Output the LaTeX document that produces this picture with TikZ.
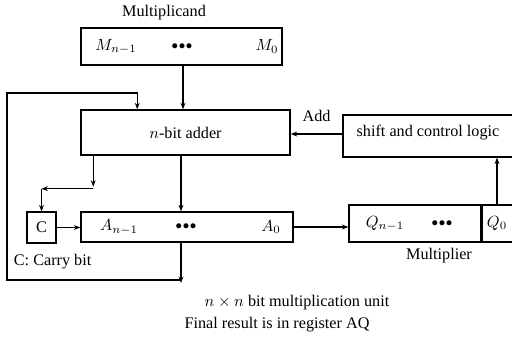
\documentclass[tikz,border=0pt]{standalone}
\usepackage{fontspec}
\setmainfont{Liberation Serif}
\usetikzlibrary{arrows.meta,calc}
\tikzset{
  reg/.style={draw,line width=0.8pt,inner sep=0pt},
  arr/.style={line width=0.8pt,-{Stealth[length=4pt,width=3pt]}},
  txt/.style={inner sep=1pt}
}
\newcommand{\regdots}{\scalebox{0.8}{$\bullet\!\bullet\!\bullet$}}

\begin{document}
\begin{tikzpicture}[x=0.0217cm,y=-0.0217cm]
  \useasboundingbox (0,0) rectangle (512,337);
  % registers and blocks
  \node[txt] (mcand) at (164,13) {Multiplicand};
  \node[reg,minimum width=4.36cm,minimum height=0.80cm] (mreg) at (181.5,46.5) {};
  \node[reg,minimum width=4.54cm,minimum height=0.98cm] (adder) at (185.5,132.5) {$n$-bit adder};
  \node[reg,minimum width=3.90cm,minimum height=0.91cm] (shift) at (433,136) {};
  \node[txt] (shifttxt) at (428,133) {shift and control logic};
  \node[reg,minimum width=0.63cm,minimum height=0.67cm] (carry) at (41.5,227.5) {C};
  \node[reg,minimum width=4.60cm,minimum height=0.65cm] (areg) at (187,227) {};
  \node[reg,minimum width=2.86cm,minimum height=0.80cm] (qreg) at (415,223.5) {};
  \node[reg,minimum width=0.90cm,minimum height=0.80cm,anchor=west] (q0) at (qreg.east) {};
  % register contents
  \node[txt] (mhi) at (116,46.5) {$M_{n-1}$};
  \node[txt] (mdots) at (182,46.5) {\regdots};
  \node[txt] (mlo) at (267,46.5) {$M_0$};
  \node[txt] (ahi) at (119,227) {$A_{n-1}$};
  \node[txt] (adots) at (186,227) {\regdots};
  \node[txt] (alo) at (271,227) {$A_0$};
  \node[txt] (qhi) at (385,223.5) {$Q_{n-1}$};
  \node[txt] (qdots) at (442,223.5) {\regdots};
  \node[txt] (qlo) at (497,223.5) {$Q_0$};
  % captions
  \node[txt,anchor=west] (carrytxt) at (12,262) {C: Carry bit};
  \node[txt] (mplier) at (439,256) {Multiplier};
  \node[txt] (unit) at (297,303) {$n\times n$ bit multiplication unit};
  \node[txt] (result) at (277,325) {Final result is in register AQ};

  % ports
  \coordinate (addin) at ($(adder.north west)+(57,0)$);
  \coordinate (cout) at ($(adder.south west)+(13,0)$);
  \coordinate (cj) at ($(cout)+(0,33)$);
  \coordinate (aout) at (181,283);
  \coordinate (fb) at (7,93);

  % data paths
  \draw[arr] (mreg.south -| 183,0) -- (adder.north -| 183,0);
  \draw[arr] (cout) -- ++(0,31);
  \draw[arr] (cj) -- (cj -| carry.north);
  \draw[arr] (cj -| carry.north) -- (carry.north);
  \draw[arr] (adder.south -| aout) -- (areg.north -| aout);
  \draw[arr] (carry.east) -- (carry.east -| areg.west);
  \draw[arr] (areg.east) -- (areg.east -| qreg.west);
  \draw[arr] (areg.south -| aout) -- (aout);
  \draw[arr] ($(aout)+(0,-3)$) -| (fb) -| (addin);
  \draw[arr] (qlo |- q0.north) -- (qlo |- shift.south);
  \draw[arr] (shift.west |- 0,134) -- (adder.east |- 0,134)
    node[txt,midway,above=6pt] (addlbl) {Add};
\end{tikzpicture}
\end{document}
